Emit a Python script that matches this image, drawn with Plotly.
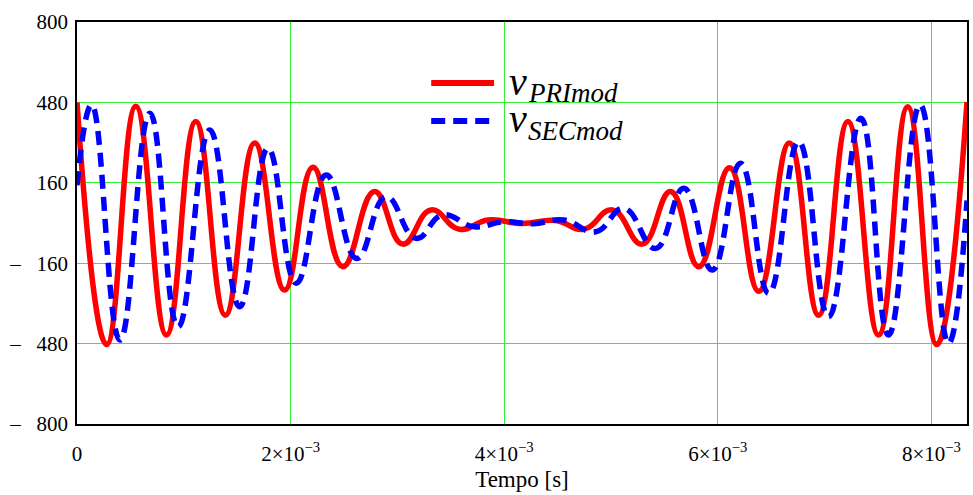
import plotly.graph_objects as go

# Values (time in ms, voltage in V)
t_pri = [0.0, 0.278, 0.551, 0.838, 1.112, 1.389, 1.664, 1.944, 2.209, 2.489, 2.785,
         3.050, 3.315, 3.579, 3.850, 4.167, 4.480, 4.745, 5.012, 5.293, 5.558, 5.822,
         6.110, 6.383, 6.670, 6.944, 7.218, 7.505, 7.778, 8.050, 8.333]
v_pri = [480, -484, 465, -446, 404, -367, 318, -267, 222, -174, 125,
         -84, 52, -25, 12, -2, 10, -25, 52, -84, 125, -174,
         220, -272, 318, -367, 404, -446, 463, -484, 482]

t_sec = [0.0, 0.137, 0.402, 0.682, 0.947, 1.243, 1.523, 1.788, 2.053, 2.333, 2.620,
         2.894, 3.174, 3.424, 3.720, 3.990, 4.270, 4.560, 4.857, 5.121, 5.417, 5.682,
         5.947, 6.212, 6.477, 6.757, 7.037, 7.340, 7.598, 7.894, 8.159, 8.333]
v_sec = [150, 470, -466, 437, -413, 370, -333, 297, -240, 191, -141,
         105, -61, 32, -15, 5, -3, 12, -35, 58, -101, 138,
         -187, 238, -280, 324, -373, 417, -446, 470, -479, 90]

y_ticks = [-800, -480, -160, 160, 480, 800]
y_labels = ["–\u00a0\u00a0\u00a0800", "–\u00a0\u00a0\u00a0480", "–\u00a0\u00a0\u00a0160", "160", "480", "800"]
x_ticks = [0, 2e-3, 4e-3, 6e-3, 8e-3]
x_labels = ["0", "2×10<sup>−3</sup>", "4×10<sup>−3</sup>", "6×10<sup>−3</sup>", "8×10<sup>−3</sup>"]

FONT = "Liberation Serif"
GRID = "#33ee33"

fig = go.Figure()
fig.add_trace(go.Scatter(
    x=[t * 1e-3 for t in t_pri], y=v_pri, mode="lines",
    line=dict(color="#ff0000", width=5.5, shape="spline", smoothing=1.3),
    name="vPRImod", showlegend=False))
fig.add_trace(go.Scatter(
    x=[t * 1e-3 for t in t_sec], y=v_sec, mode="lines",
    line=dict(color="#0000ff", width=5.5, dash="14px,8px", shape="spline", smoothing=1.3),
    name="vSECmod", showlegend=False))

W, H = 973, 495
L, R, T, B = 77, 4, 22, 71
pw, ph = W - L - R, H - T - B

def px(xs):  # screen x -> paper
    return (xs - L) / pw

def py(ys):  # screen y -> paper
    return (H - B - ys) / ph

shapes = [
    dict(type="line", xref="paper", yref="paper", x0=px(432), x1=px(495), y0=py(83), y1=py(83),
         line=dict(color="#ff0000", width=6)),
    dict(type="line", xref="paper", yref="paper", x0=px(432), x1=px(495), y0=py(121), y1=py(121),
         line=dict(color="#0000ff", width=6, dash="14px,8px")),
]
annotations = [
    dict(xref="paper", yref="paper", x=px(508), y=py(81), text="<i>v</i>", showarrow=False,
         xanchor="left", yanchor="middle", font=dict(family=FONT, size=40, color="black")),
    dict(xref="paper", yref="paper", x=px(527), y=py(93), text="<i>PRImod</i>", showarrow=False,
         xanchor="left", yanchor="middle", font=dict(family=FONT, size=27, color="black")),
    dict(xref="paper", yref="paper", x=px(508), y=py(119), text="<i>v</i>", showarrow=False,
         xanchor="left", yanchor="middle", font=dict(family=FONT, size=40, color="black")),
    dict(xref="paper", yref="paper", x=px(527), y=py(131), text="<i>SECmod</i>", showarrow=False,
         xanchor="left", yanchor="middle", font=dict(family=FONT, size=27, color="black")),
]

fig.update_layout(
    width=W, height=H,
    margin=dict(l=L, r=R, t=T, b=B),
    paper_bgcolor="white", plot_bgcolor="white",
    font=dict(family=FONT, size=21, color="black"),
    hovermode=False,
    shapes=shapes, annotations=annotations,
    xaxis=dict(range=[0, 8.333e-3], tickvals=x_ticks, ticktext=x_labels,
               showgrid=True, gridcolor=GRID, gridwidth=1, zeroline=False,
               showline=True, linecolor="black", linewidth=1.5, mirror=True,
               ticks="outside", ticklen=10, tickcolor="rgba(0,0,0,0)",
               title=dict(text="Tempo [s]", font=dict(family=FONT, size=23), standoff=6),
               tickfont=dict(family=FONT, size=21)),
    yaxis=dict(range=[-800, 800], tickvals=y_ticks, ticktext=y_labels,
               showgrid=True, gridcolor=GRID, gridwidth=1, zeroline=False,
               showline=True, linecolor="black", linewidth=1.5, mirror=True,
               ticks="outside", ticklen=3, tickcolor="rgba(0,0,0,0)",
               tickfont=dict(family=FONT, size=21)),
)

fig.write_html(
    "out.html",
    config={"displayModeBar": False},
    post_script="document.body.style.margin='0';document.body.style.overflow='hidden';",
)
